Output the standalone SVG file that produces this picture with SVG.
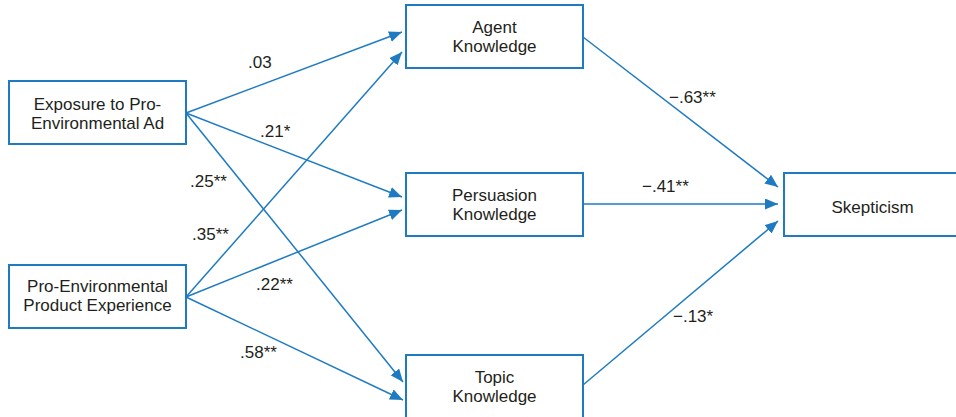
<svg xmlns="http://www.w3.org/2000/svg" width="956" height="417" viewBox="0 0 956 417">
<style>
.box{fill:#fff;stroke:#1f7bc1;stroke-width:2}
.t{font-family:"Liberation Sans",Arial,sans-serif;font-size:17px;fill:#231f20;text-anchor:middle}
.l{font-family:"Liberation Sans",Arial,sans-serif;font-size:17px;fill:#231f20}
.c{stroke:#1f7bc1;stroke-width:1.5;fill:none;marker-end:url(#ah)}
</style>
<defs>
<marker id="ah" markerUnits="userSpaceOnUse" markerWidth="14" markerHeight="12" refX="13" refY="5.5" orient="auto">
<path d="M0,0 L13,5.5 L0,11 z" fill="#1f7bc1"/>
</marker>
</defs>
<rect width="956" height="417" fill="#fff"/>
<g id="connectors">
<line class="c" x1="186" y1="113" x2="402" y2="32"/>
<line class="c" x1="186" y1="113" x2="402" y2="197"/>
<line class="c" x1="186" y1="113" x2="403" y2="382"/>
<line class="c" x1="186" y1="297" x2="402" y2="52"/>
<line class="c" x1="186" y1="297" x2="402" y2="210"/>
<line class="c" x1="186" y1="297" x2="403" y2="400"/>
<line class="c" x1="583" y1="37" x2="778" y2="187"/>
<line class="c" x1="583" y1="204" x2="778" y2="204"/>
<line class="c" x1="583" y1="385" x2="778" y2="221"/>
</g>
<g id="labels">
<text class="l" x="248" y="68">.03</text>
<text class="l" x="260" y="137">.21*</text>
<text class="l" x="190" y="187">.25**</text>
<text class="l" x="192" y="240">.35**</text>
<text class="l" x="256" y="290">.22**</text>
<text class="l" x="240" y="358">.58**</text>
<text class="l" x="669" y="103">−.63**</text>
<text class="l" x="642" y="192">−.41**</text>
<text class="l" x="673" y="322">−.13*</text>
</g>
<g id="exposure">
<rect class="box" x="9" y="81" width="177" height="63"/>
<text class="t" x="97.5" y="109.5">Exposure to Pro-</text>
<text class="t" x="97.5" y="128.5">Environmental Ad</text>
</g>
<g id="experience">
<rect class="box" x="9" y="265" width="177" height="63"/>
<text class="t" x="97.5" y="292">Pro-Environmental</text>
<text class="t" x="97.5" y="311">Product Experience</text>
</g>
<g id="agent">
<rect class="box" x="406" y="5" width="177" height="63"/>
<text class="t" x="494.5" y="33">Agent</text>
<text class="t" x="494.5" y="52">Knowledge</text>
</g>
<g id="persuasion">
<rect class="box" x="406" y="173" width="177" height="63"/>
<text class="t" x="494.5" y="201">Persuasion</text>
<text class="t" x="494.5" y="220">Knowledge</text>
</g>
<g id="topic">
<rect class="box" x="406" y="355" width="177" height="63"/>
<text class="t" x="494.5" y="383">Topic</text>
<text class="t" x="494.5" y="402">Knowledge</text>
</g>
<g id="skepticism">
<rect class="box" x="784" y="173" width="178" height="63"/>
<text class="t" x="872.5" y="213">Skepticism</text>
</g>
</svg>
